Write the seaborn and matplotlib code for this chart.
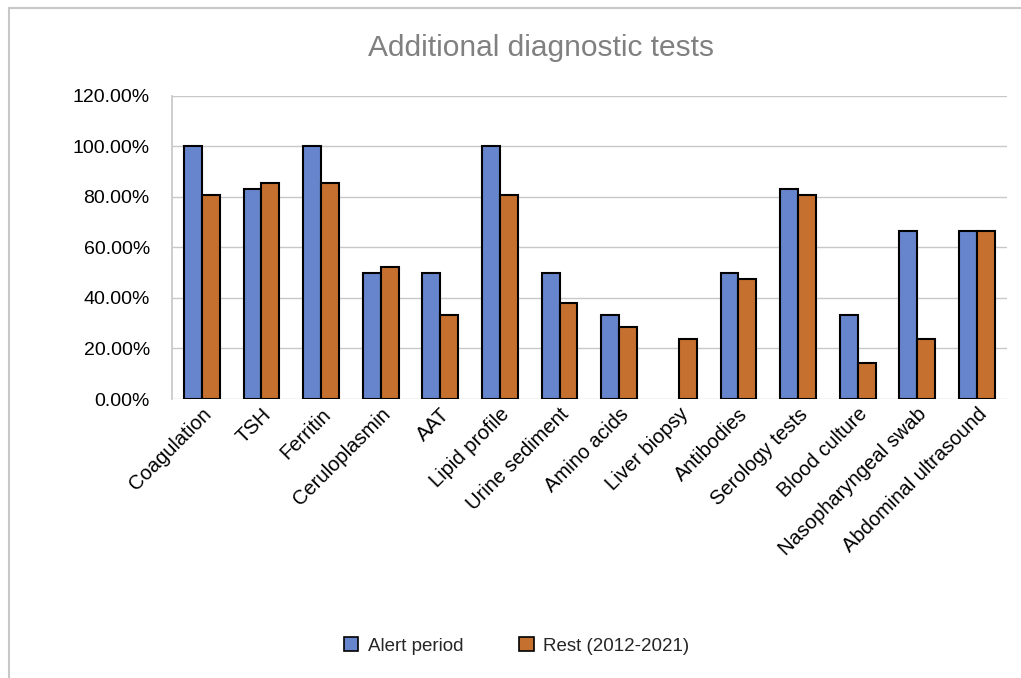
import matplotlib
matplotlib.use("Agg")
import matplotlib.pyplot as plt
import matplotlib.patches as mpatches
from matplotlib.lines import Line2D
from matplotlib.ticker import FuncFormatter
import pandas as pd
import seaborn as sns

tests = ["Coagulation", "TSH", "Ferritin", "Ceruloplasmin", "AAT", "Lipid profile",
         "Urine sediment", "Amino acids", "Liver biopsy", "Antibodies",
         "Serology tests", "Blood culture", "Nasopharyngeal swab", "Abdominal ultrasound"]
alert_period = [100.0, 83.33, 100.0, 50.0, 50.0, 100.0, 50.0, 33.33, 0.0, 50.0,
                83.33, 33.33, 66.67, 66.67]
rest_period = [80.95, 85.71, 85.71, 52.38, 33.33, 80.95, 38.10, 28.57, 23.81, 47.62,
               80.95, 14.29, 23.81, 66.67]
series_names = ["Alert period", "Rest (2012-2021)"]
y_ticks = [0, 20, 40, 60, 80, 100, 120]

df = pd.DataFrame({
    "test": tests * 2,
    "value": alert_period + rest_period,
    "period": [series_names[0]] * len(tests) + [series_names[1]] * len(tests),
})

sns.set_theme(style="white")
plt.rcParams["font.family"] = ["Liberation Sans", "DejaVu Sans"]

fig = plt.figure(figsize=(10.21, 6.78), dpi=100)
ax = fig.add_axes([0.1685, 0.4115, 0.8175, 0.447])

palette = {series_names[0]: "#6685CC", series_names[1]: "#C5702F"}
sns.barplot(data=df, x="test", y="value", hue="period", palette=palette,
            width=0.6, edgecolor="black", linewidth=1.5, saturation=1,
            legend=False, ax=ax)

# zero-height bars get no outline
for bar in ax.patches:
    if bar.get_height() == 0:
        bar.set_linewidth(0)

ax.set_ylim(0, 120)
ax.set_yticks(y_ticks)
ax.yaxis.set_major_formatter(FuncFormatter(lambda v, _: f"{v:.2f}%"))
ax.grid(axis="y", color="#C8C8C8", linewidth=1)
ax.set_axisbelow(True)
for side in ["top", "right", "bottom"]:
    ax.spines[side].set_visible(False)
ax.spines["left"].set_color("#C8C8C8")
ax.set_xlabel("")
ax.set_ylabel("")
ax.tick_params(axis="y", labelsize=14, colors="black", length=0, pad=16)
ax.tick_params(axis="x", labelsize=14.5, colors="black", length=0, pad=4)
plt.setp(ax.get_xticklabels(), rotation=45, ha="right", rotation_mode="anchor")
ax.set_xlim(-0.5, len(tests) - 0.5)

fig.text(0.53, 0.929, "Additional diagnostic tests", ha="center", va="center",
         fontsize=21.5, color="#808080")

handles = [mpatches.Patch(facecolor=palette[n], edgecolor="black", linewidth=1.2, label=n)
           for n in series_names]
fig.legend(handles=handles, loc="center", bbox_to_anchor=(0.506, 0.047), ncol=2,
           frameon=False, fontsize=13.5, handlelength=0.75, handleheight=0.75,
           handletextpad=0.5, columnspacing=3.0)

# outer chart frame (left and top edges)
x0, y1 = 9 / 1021, 1 - 8 / 678
fig.lines.append(Line2D([x0, x0], [0, y1], transform=fig.transFigure,
                        color="#C8C8C8", linewidth=1.5))
fig.lines.append(Line2D([x0, 1], [y1, y1], transform=fig.transFigure,
                        color="#C8C8C8", linewidth=1.5))

fig.savefig("out.png", dpi=100, facecolor="white")
